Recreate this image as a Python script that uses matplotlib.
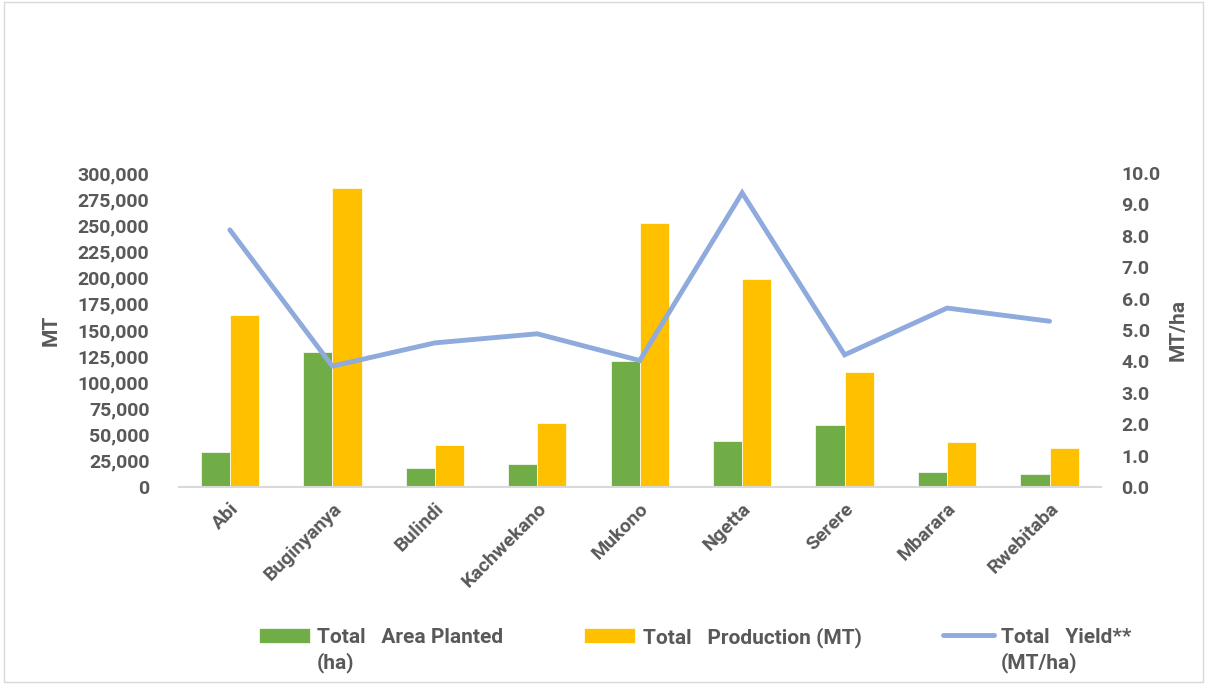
import matplotlib.pyplot as plt
import numpy as np
from matplotlib.ticker import FuncFormatter, MultipleLocator
from matplotlib.patches import Rectangle

# Area planted (ha), production (MT) and yield (MT/ha) by station
stations = ["Abi", "Buginyanya", "Bulindi", "Kachwekano", "Mukono",
            "Ngetta", "Serere", "Mbarara", "Rwebitaba"]
area_ha = [33200, 129000, 18200, 22300, 120400, 44000, 58900, 14300, 12700]
production_mt = [164300, 285700, 40100, 60800, 252000, 198700, 109900, 43000, 37600]
yield_mt_ha = [8.19, 3.85, 4.59, 4.88, 4.03, 9.37, 4.21, 5.70, 5.28]

green = "#70ad47"
orange = "#ffc000"
blue = "#8faadc"
grey = "#595959"

plt.rcParams["font.family"] = ["Roboto", "DejaVu Sans"]
plt.rcParams["font.weight"] = "bold"

fig = plt.figure(figsize=(12.07, 6.84), dpi=100)
ax = fig.add_axes([0.148, 0.288, 0.764, 0.459])

x = np.arange(len(stations))
w = 0.285
b1 = ax.bar(x - w / 2, area_ha, w, color=green, edgecolor="white", linewidth=0.5,
            label="Total   Area Planted\n(ha)")
b2 = ax.bar(x + w / 2, production_mt, w, color=orange, edgecolor="white", linewidth=0.5,
            label="Total   Production (MT)")

ax.set_xlim(-0.5, len(stations) - 0.5)
ax.set_ylim(0, 300000)
ax.yaxis.set_major_locator(MultipleLocator(25000))
ax.yaxis.set_major_formatter(FuncFormatter(lambda v, p: f"{int(v):,}"))
ax.set_xticks(x)
ax.set_xticklabels(stations, rotation=45, ha="right", rotation_mode="anchor")
ax.tick_params(axis="both", length=0, labelsize=14, colors=grey)
ax.tick_params(axis="y", pad=21)
ax.tick_params(axis="x", pad=9)
for lbl in ax.get_xticklabels() + ax.get_yticklabels():
    lbl.set_fontweight("bold")
for s in ["top", "right", "left"]:
    ax.spines[s].set_visible(False)
ax.spines["bottom"].set_color("#d9d9d9")
ax.spines["bottom"].set_linewidth(1.5)
ax.set_ylabel("MT", fontsize=15, fontweight="bold", color=grey, labelpad=12)

ax2 = ax.twinx()
ln, = ax2.plot(x, yield_mt_ha, color=blue, linewidth=3.5, solid_capstyle="round",
               solid_joinstyle="miter", label="Total   Yield**\n(MT/ha)")
ax2.set_ylim(0, 10)
ax2.yaxis.set_major_locator(MultipleLocator(1))
ax2.yaxis.set_major_formatter(FuncFormatter(lambda v, p: f"{v:.1f}"))
ax2.tick_params(axis="y", length=0, labelsize=14, colors=grey, pad=15)
for lbl in ax2.get_yticklabels():
    lbl.set_fontweight("bold")
for s in ax2.spines.values():
    s.set_visible(False)
ax2.set_ylabel("MT/ha", fontsize=15, fontweight="bold", color=grey, labelpad=6)

leg = fig.legend([b1, b2, ln], [b1.get_label(), b2.get_label(), ln.get_label()],
                 loc="upper left", bbox_to_anchor=(0.199, 0.11), ncol=3,
                 frameon=False, fontsize=15, handlelength=2.45, handleheight=0.8,
                 handletextpad=0.34, columnspacing=3.9)
leg._legend_handle_box.align = "top"
for col in leg._legend_handle_box.get_children():
    for row in col.get_children():
        row.align = "top"
for t in leg.get_texts():
    t.set_color(grey)
    t.set_fontweight("bold")
    t.set_linespacing(1.35)

fig.patches.append(Rectangle((0.003, 0.003), 0.994, 0.994, transform=fig.transFigure,
                             fill=False, edgecolor="#d9d9d9", linewidth=1))

fig.savefig("out.png", dpi=100)
